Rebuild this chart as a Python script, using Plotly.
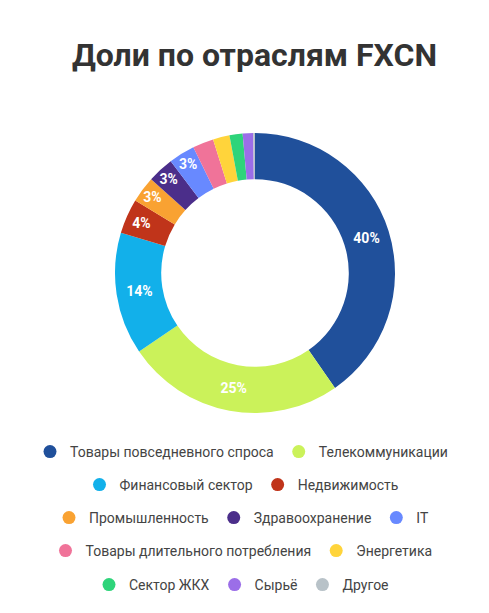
import plotly.graph_objects as go

# sector shares of the FXCN fund, %
sectors = ["Товары повседневного спроса", "Телекоммуникации", "Финансовый сектор",
           "Недвижимость", "Промышленность", "Здравоохранение", "IT",
           "Товары длительного потребления", "Энергетика", "Сектор ЖКХ", "Сырьё", "Другое"]
shares = [40, 25, 14, 4, 3, 3, 3, 2.4, 1.9, 1.5, 1.2, 0.2]
colors = ["#20509b", "#cbf25a", "#12b0ea", "#c0341a", "#f9a232", "#4b2e8a", "#6889ff",
          "#f07399", "#ffd43b", "#2ed47a", "#9b6ee8", "#b8c2c8"]
# legend rows as in the original
legend_rows = [[0, 1], [2, 3], [4, 5, 6], [7, 8], [9, 10, 11]]

W, H = 489, 613
cx, cy, r = 255, 273, 140

labels_txt = [f"{v:.0f}%" if v >= 3 else "" for v in shares]

fig = go.Figure()
fig.add_trace(go.Pie(
    labels=sectors, values=shares, text=labels_txt, textinfo="text",
    sort=False, direction="clockwise", rotation=0, hole=0.67,
    marker=dict(colors=colors, line=dict(width=0)),
    textposition="inside", insidetextorientation="horizontal",
    textfont=dict(family="Roboto", size=14, color="white", weight="bold"),
    showlegend=False, hoverinfo="label+percent",
    domain=dict(x=[(cx - r) / W, (cx + r) / W], y=[1 - (cy + r) / H, 1 - (cy - r) / H]),
))

row_y = [452, 485, 518, 551, 585]
for n, row in enumerate(legend_rows):
    lg = "legend" if n == 0 else f"legend{n + 1}"
    for i in row:
        fig.add_trace(go.Scatter(
            x=[None], y=[None], mode="markers", name=sectors[i],
            marker=dict(symbol="circle", size=13, color=colors[i]),
            legend=lg, hoverinfo="skip",
        ))
    fig.update_layout({lg: dict(
        orientation="h", x=241.5 / W, xanchor="center", y=1 - row_y[n] / H, yanchor="middle",
        font=dict(family="Roboto", size=14, color="#444"), bgcolor="rgba(0,0,0,0)",
        itemwidth=30,
    )})

fig.update_layout(
    width=W, height=H,
    margin=dict(l=0, r=0, t=0, b=0),
    paper_bgcolor="white", plot_bgcolor="white",
    title=dict(text="<b>Доли по отраслям FXCN</b>", x=254.5 / W, xanchor="center",
               y=1 - 55 / H, yanchor="middle",
               font=dict(family="Roboto", size=32, color="#333")),
    xaxis=dict(visible=False), yaxis=dict(visible=False),
)

fig.write_html("out.html", config={"displayModeBar": False},
               post_script="document.body.style.margin='0';")
